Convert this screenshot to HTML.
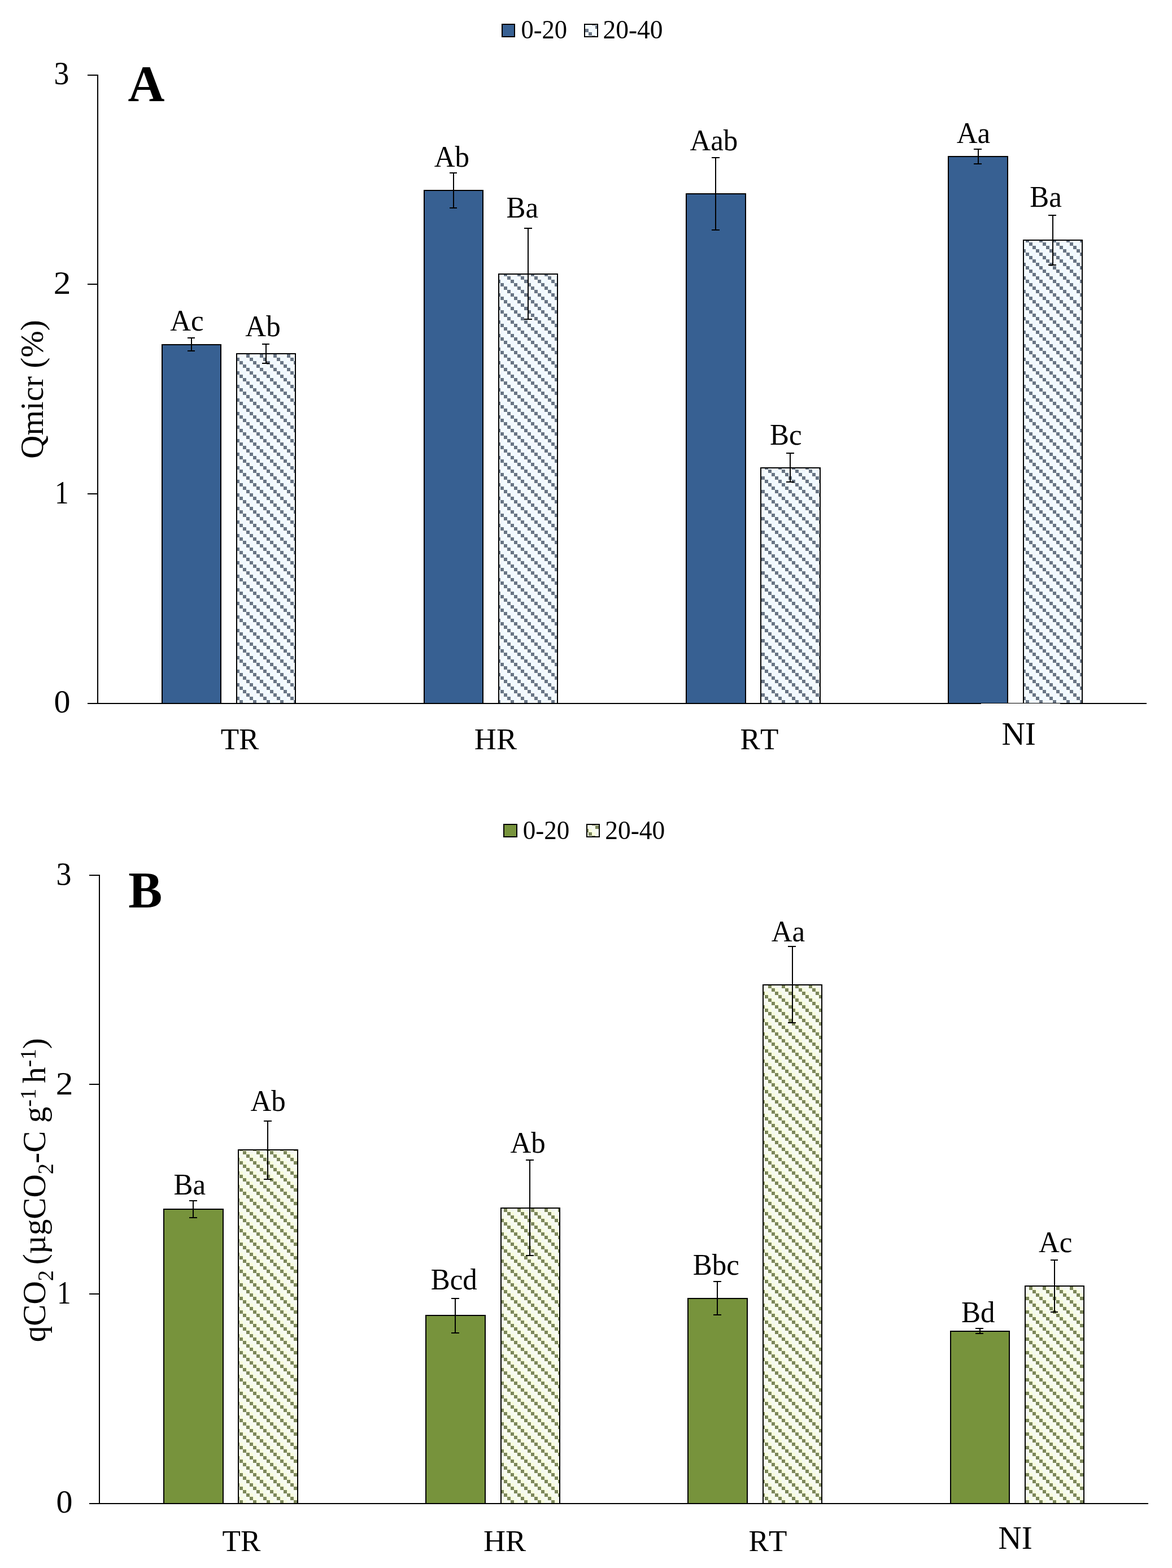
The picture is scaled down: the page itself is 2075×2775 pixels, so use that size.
<!DOCTYPE html>
<html lang="en">
<head>
<meta charset="utf-8">
<title>Qmicr and qCO2 by treatment and depth</title>
<style>
html, body { margin: 0; padding: 0; background: #fff; }
body { width: 2075px; height: 2775px; }
svg { display: block; font-family: "Liberation Serif", "Times New Roman", serif; fill: #000; font-kerning: none; }
svg text { white-space: pre; }
svg rect { shape-rendering: crispEdges; }
</style>
</head>
<body>
<svg width="2075" height="2775" viewBox="0 0 2075 2775">
<defs>
<pattern id="hb" patternUnits="userSpaceOnUse" x="4" y="3" width="24" height="24"><rect width="24" height="24" fill="#f7feff"/><rect x="0" y="0" width="6" height="6" fill="#697585"/><rect x="6" y="0" width="6" height="6" fill="#f3fcff"/><rect x="12" y="0" width="6" height="6" fill="#f1f7fe"/><rect x="6" y="6" width="6" height="6" fill="#697585"/><rect x="12" y="6" width="6" height="6" fill="#f3fcff"/><rect x="18" y="6" width="6" height="6" fill="#f1f7fe"/><rect x="0" y="12" width="6" height="6" fill="#f1f7fe"/><rect x="12" y="12" width="6" height="6" fill="#697585"/><rect x="18" y="12" width="6" height="6" fill="#f3fcff"/><rect x="0" y="18" width="6" height="6" fill="#f3fcff"/><rect x="6" y="18" width="6" height="6" fill="#f1f7fe"/><rect x="18" y="18" width="6" height="6" fill="#697585"/></pattern>
<pattern id="hg" patternUnits="userSpaceOnUse" x="4" y="3" width="24" height="24"><rect width="24" height="24" fill="#fafdf1"/><rect x="0" y="0" width="6" height="6" fill="#7c875b"/><rect x="6" y="0" width="6" height="6" fill="#f8fddc"/><rect x="12" y="0" width="6" height="6" fill="#f5f9ef"/><rect x="6" y="6" width="6" height="6" fill="#7c875b"/><rect x="12" y="6" width="6" height="6" fill="#f8fddc"/><rect x="18" y="6" width="6" height="6" fill="#f5f9ef"/><rect x="0" y="12" width="6" height="6" fill="#f5f9ef"/><rect x="12" y="12" width="6" height="6" fill="#7c875b"/><rect x="18" y="12" width="6" height="6" fill="#f8fddc"/><rect x="0" y="18" width="6" height="6" fill="#f8fddc"/><rect x="6" y="18" width="6" height="6" fill="#f5f9ef"/><rect x="18" y="18" width="6" height="6" fill="#7c875b"/></pattern>
</defs>
<rect width="2075" height="2775" fill="#fff"/>
<g id="chartA">
<g class="bars">
<rect x="286" y="609" width="106" height="636" fill="#000"/>
<rect x="288" y="611" width="102" height="634" fill="#376092"/>
<rect x="418" y="625" width="106" height="620" fill="#000"/>
<rect x="420" y="627" width="102" height="618" fill="url(#hb)"/>
<rect x="750" y="336" width="106" height="909" fill="#000"/>
<rect x="752" y="338" width="102" height="907" fill="#376092"/>
<rect x="882" y="484" width="106" height="761" fill="#000"/>
<rect x="884" y="486" width="102" height="759" fill="url(#hb)"/>
<rect x="1214" y="342" width="107" height="903" fill="#000"/>
<rect x="1216" y="344" width="103" height="901" fill="#376092"/>
<rect x="1346" y="827" width="107" height="418" fill="#000"/>
<rect x="1348" y="829" width="103" height="416" fill="url(#hb)"/>
<rect x="1678" y="276" width="107" height="969" fill="#000"/>
<rect x="1680" y="278" width="103" height="967" fill="#376092"/>
<rect x="1811" y="424" width="106" height="821" fill="#000"/>
<rect x="1813" y="426" width="102" height="819" fill="url(#hb)"/>
</g>
<g class="axes">
<rect x="172" y="132" width="2" height="1114" fill="#000"/>
<rect x="155" y="1244" width="1875" height="2" fill="#000"/>
<rect x="155" y="873" width="18" height="2" fill="#000"/>
<rect x="155" y="502" width="18" height="2" fill="#000"/>
<rect x="155" y="132" width="18" height="2" fill="#000"/>
<rect x="1737" y="1245" width="140" height="1" fill="#fff"/>
</g>
<g class="errorbars">
<rect x="338" y="597" width="2" height="25" fill="#000"/>
<rect x="332" y="597" width="13" height="2" fill="#000"/>
<rect x="332" y="620" width="13" height="2" fill="#000"/>
<rect x="470" y="608" width="2" height="36" fill="#000"/>
<rect x="464" y="608" width="13" height="2" fill="#000"/>
<rect x="464" y="642" width="13" height="2" fill="#000"/>
<rect x="802" y="305" width="2" height="64" fill="#000"/>
<rect x="796" y="305" width="13" height="2" fill="#000"/>
<rect x="796" y="367" width="13" height="2" fill="#000"/>
<rect x="934" y="403" width="2" height="163" fill="#000"/>
<rect x="928" y="403" width="14" height="2" fill="#000"/>
<rect x="928" y="564" width="14" height="2" fill="#000"/>
<rect x="1266" y="278" width="2" height="130" fill="#000"/>
<rect x="1260" y="278" width="14" height="2" fill="#000"/>
<rect x="1260" y="406" width="14" height="2" fill="#000"/>
<rect x="1398" y="801" width="2" height="53" fill="#000"/>
<rect x="1392" y="801" width="14" height="2" fill="#000"/>
<rect x="1392" y="852" width="14" height="2" fill="#000"/>
<rect x="1731" y="263" width="2" height="28" fill="#000"/>
<rect x="1724" y="263" width="14" height="2" fill="#000"/>
<rect x="1724" y="289" width="14" height="2" fill="#000"/>
<rect x="1863" y="380" width="2" height="90" fill="#000"/>
<rect x="1856" y="380" width="14" height="2" fill="#000"/>
<rect x="1856" y="468" width="14" height="2" fill="#000"/>
</g>
<g class="ticklabels">
<text x="109.9" y="1261.45" font-size="58" text-anchor="middle">0</text>
<text transform="translate(109.4 891.45) scale(0.85 1)" font-size="58" text-anchor="middle">1</text>
<text transform="translate(110 520.45) scale(1.06 1)" font-size="58" text-anchor="middle">2</text>
<text transform="translate(108.9 149.45) scale(0.93 1)" font-size="58" text-anchor="middle">3</text>
</g>
<g class="datalabels">
<text transform="translate(331 585) scale(0.98 1)" font-size="52" text-anchor="middle">Ac</text>
<text transform="translate(465.5 595) scale(0.98 1)" font-size="52" text-anchor="middle">Ab</text>
<text transform="translate(799.8 295) scale(0.98 1)" font-size="52" text-anchor="middle">Ab</text>
<text transform="translate(924.8 385.2) scale(0.98 1)" font-size="52" text-anchor="middle">Ba</text>
<text transform="translate(1263.9 265.6) scale(0.98 1)" font-size="52" text-anchor="middle">Aab</text>
<text transform="translate(1391.3 787.2) scale(0.98 1)" font-size="52" text-anchor="middle">Bc</text>
<text transform="translate(1723.5 253) scale(0.98 1)" font-size="52" text-anchor="middle">Aa</text>
<text transform="translate(1851.6 365.8) scale(0.98 1)" font-size="52" text-anchor="middle">Ba</text>
</g>
<g class="categories">
<text transform="translate(424.6 1326) scale(1.02 1)" font-size="52" text-anchor="middle">TR</text>
<text transform="translate(877.4 1326) scale(1.04 1)" font-size="52" text-anchor="middle">HR</text>
<text transform="translate(1344.5 1326) scale(1.02 1)" font-size="52" text-anchor="middle">RT</text>
<text transform="translate(1803.7 1317.6) scale(1.024 1)" font-size="56" text-anchor="middle">NI</text>
</g>
<text x="258.9" y="178.6" font-size="90" text-anchor="middle" font-weight="bold">A</text>
<g class="legend">
<rect x="888" y="42" width="24" height="24" fill="#000"/>
<rect x="890" y="44" width="20" height="20" fill="#376092"/>
<text transform="translate(963.3 68) scale(0.98 1)" font-size="45.5" text-anchor="middle">0-20</text>
<rect x="1034" y="42" width="25" height="24" fill="#000"/>
<rect x="1036" y="44" width="21" height="20" fill="url(#hb)"/>
<text x="1120.5" y="68" font-size="45.5" text-anchor="middle">20-40</text>
</g>
<text transform="translate(76.3 689) rotate(-90) scale(0.984 1)" font-size="58" text-anchor="middle">Qmicr (%)</text>
</g>
<g id="chartB">
<g class="bars">
<rect x="289" y="2139" width="107" height="522" fill="#000"/>
<rect x="291" y="2141" width="103" height="520" fill="#77933c"/>
<rect x="421" y="2034" width="107" height="627" fill="#000"/>
<rect x="423" y="2036" width="103" height="625" fill="url(#hg)"/>
<rect x="753" y="2327" width="107" height="334" fill="#000"/>
<rect x="755" y="2329" width="103" height="332" fill="#77933c"/>
<rect x="886" y="2137" width="106" height="524" fill="#000"/>
<rect x="888" y="2139" width="102" height="522" fill="url(#hg)"/>
<rect x="1217" y="2297" width="107" height="364" fill="#000"/>
<rect x="1219" y="2299" width="103" height="362" fill="#77933c"/>
<rect x="1350" y="1742" width="106" height="919" fill="#000"/>
<rect x="1352" y="1744" width="102" height="917" fill="url(#hg)"/>
<rect x="1682" y="2355" width="106" height="306" fill="#000"/>
<rect x="1684" y="2357" width="102" height="304" fill="#77933c"/>
<rect x="1814" y="2275" width="106" height="386" fill="#000"/>
<rect x="1816" y="2277" width="102" height="384" fill="url(#hg)"/>
</g>
<g class="axes">
<rect x="175" y="1548" width="2" height="1114" fill="#000"/>
<rect x="158" y="2660" width="1875" height="2" fill="#000"/>
<rect x="158" y="2289" width="18" height="2" fill="#000"/>
<rect x="158" y="1918" width="18" height="2" fill="#000"/>
<rect x="158" y="1548" width="18" height="2" fill="#000"/>
</g>
<g class="errorbars">
<rect x="341" y="2124" width="2" height="32" fill="#000"/>
<rect x="335" y="2124" width="14" height="2" fill="#000"/>
<rect x="335" y="2154" width="14" height="2" fill="#000"/>
<rect x="473" y="1983" width="2" height="105" fill="#000"/>
<rect x="467" y="1983" width="14" height="2" fill="#000"/>
<rect x="467" y="2086" width="14" height="2" fill="#000"/>
<rect x="805" y="2297" width="2" height="63" fill="#000"/>
<rect x="799" y="2297" width="14" height="2" fill="#000"/>
<rect x="799" y="2358" width="14" height="2" fill="#000"/>
<rect x="937" y="2052" width="2" height="171" fill="#000"/>
<rect x="931" y="2052" width="14" height="2" fill="#000"/>
<rect x="931" y="2221" width="14" height="2" fill="#000"/>
<rect x="1269" y="2267" width="2" height="61" fill="#000"/>
<rect x="1263" y="2267" width="14" height="2" fill="#000"/>
<rect x="1263" y="2326" width="14" height="2" fill="#000"/>
<rect x="1402" y="1674" width="2" height="137" fill="#000"/>
<rect x="1395" y="1674" width="14" height="2" fill="#000"/>
<rect x="1395" y="1809" width="14" height="2" fill="#000"/>
<rect x="1734" y="2350" width="2" height="11" fill="#000"/>
<rect x="1727" y="2350" width="14" height="2" fill="#000"/>
<rect x="1727" y="2359" width="14" height="2" fill="#000"/>
<rect x="1866" y="2229" width="2" height="94" fill="#000"/>
<rect x="1860" y="2229" width="13" height="2" fill="#000"/>
<rect x="1860" y="2321" width="13" height="2" fill="#000"/>
</g>
<g class="ticklabels">
<text x="113.9" y="2677.45" font-size="58" text-anchor="middle">0</text>
<text transform="translate(113.4 2307.45) scale(0.85 1)" font-size="58" text-anchor="middle">1</text>
<text transform="translate(114 1937.45) scale(1.06 1)" font-size="58" text-anchor="middle">2</text>
<text transform="translate(113 1566.45) scale(0.93 1)" font-size="58" text-anchor="middle">3</text>
</g>
<g class="datalabels">
<text transform="translate(335.8 2114) scale(0.98 1)" font-size="52" text-anchor="middle">Ba</text>
<text transform="translate(474.6 1966.4) scale(0.98 1)" font-size="52" text-anchor="middle">Ab</text>
<text transform="translate(803.8 2282) scale(0.98 1)" font-size="52" text-anchor="middle">Bcd</text>
<text transform="translate(934.6 2039.8) scale(0.98 1)" font-size="52" text-anchor="middle">Ab</text>
<text transform="translate(1267.9 2256) scale(0.98 1)" font-size="52" text-anchor="middle">Bbc</text>
<text transform="translate(1395.5 1666.4) scale(0.98 1)" font-size="52" text-anchor="middle">Aa</text>
<text transform="translate(1731.8 2340.2) scale(0.98 1)" font-size="52" text-anchor="middle">Bd</text>
<text transform="translate(1868.6 2216.4) scale(0.98 1)" font-size="52" text-anchor="middle">Ac</text>
</g>
<g class="categories">
<text transform="translate(427.5 2745) scale(1.02 1)" font-size="52" text-anchor="middle">TR</text>
<text transform="translate(893.5 2745) scale(1.04 1)" font-size="52" text-anchor="middle">HR</text>
<text transform="translate(1359.5 2745) scale(1.02 1)" font-size="52" text-anchor="middle">RT</text>
<text transform="translate(1797.5 2741) scale(1.024 1)" font-size="56" text-anchor="middle">NI</text>
</g>
<text x="257.3" y="1605.8" font-size="90" text-anchor="middle" font-weight="bold">B</text>
<g class="legend">
<rect x="891" y="1458" width="25" height="24" fill="#000"/>
<rect x="893" y="1460" width="21" height="20" fill="#77933c"/>
<text transform="translate(967.1 1485) scale(0.99 1)" font-size="45.5" text-anchor="middle">0-20</text>
<rect x="1038" y="1458" width="24" height="24" fill="#000"/>
<rect x="1040" y="1460" width="20" height="20" fill="url(#hg)"/>
<text x="1124.3" y="1485" font-size="45.5" text-anchor="middle">20-40</text>
</g>
<text transform="translate(80.3 2106.3) rotate(-90) scale(0.987 1)" font-size="58" text-anchor="middle">qCO<tspan font-size="39" dy="14">2 </tspan><tspan dy="-14">(µgCO</tspan><tspan font-size="39" dy="14">2</tspan><tspan dy="-14">-C g</tspan><tspan font-size="39" dy="-17.5">-1 </tspan><tspan dy="17.5">h</tspan><tspan font-size="39" dy="-17.5">-1</tspan><tspan dy="17.5">)</tspan></text>
</g>
</svg>
</body>
</html>
